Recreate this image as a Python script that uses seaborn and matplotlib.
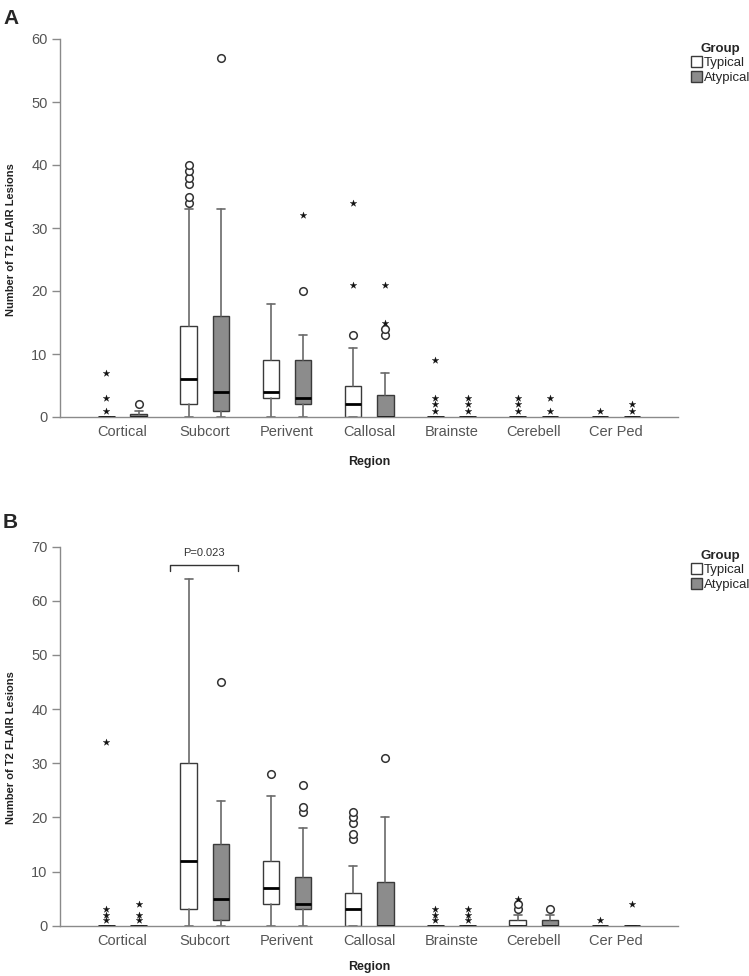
import numpy as np
import pandas as pd
import matplotlib
matplotlib.use("Agg")
import matplotlib.pyplot as plt
from matplotlib.patches import Patch
import seaborn as sns

regions = ["Cortical", "Subcort", "Perivent", "Callosal", "Brainste", "Cerebell", "Cer Ped"]
groups = ["Typical", "Atypical"]

# ---- Panel A: box statistics (Typical / Atypical) ----
A_typ_lo  = [0, 0, 0, 0, 0, 0, 0]
A_typ_q1  = [0, 2, 3, 0, 0, 0, 0]
A_typ_med = [0, 6, 4, 2, 0, 0, 0]
A_typ_q3  = [0, 14.5, 9, 5, 0, 0, 0]
A_typ_hi  = [0, 33, 18, 11, 0, 0, 0]
A_typ_circ = [[], [34, 35, 37, 38, 39, 40], [], [13], [], [], []]
A_typ_star = [[1, 3, 7], [], [], [21, 34], [1, 2, 3, 9], [1, 2, 3], [1]]

A_aty_lo  = [0, 0, 0, 0, 0, 0, 0]
A_aty_q1  = [0, 1, 2, 0, 0, 0, 0]
A_aty_med = [0, 4, 3, 0, 0, 0, 0]
A_aty_q3  = [0.5, 16, 9, 3.5, 0, 0, 0]
A_aty_hi  = [1, 33, 13, 7, 0, 0, 0]
A_aty_circ = [[2], [57], [20], [13, 14], [], [], []]
A_aty_star = [[], [], [32], [15, 21], [1, 2, 3], [1, 3], [1, 2]]

# ---- Panel B ----
B_typ_lo  = [0, 0, 0, 0, 0, 0, 0]
B_typ_q1  = [0, 3, 4, 0, 0, 0, 0]
B_typ_med = [0, 12, 7, 3, 0, 0, 0]
B_typ_q3  = [0, 30, 12, 6, 0, 1, 0]
B_typ_hi  = [0, 64, 24, 11, 0, 2, 0]
B_typ_circ = [[], [], [28], [16, 17, 19, 20, 21], [], [3, 4], []]
B_typ_star = [[1, 2, 3, 34], [], [], [], [1, 2, 3], [5], [1]]

B_aty_lo  = [0, 0, 0, 0, 0, 0, 0]
B_aty_q1  = [0, 1, 3, 0, 0, 0, 0]
B_aty_med = [0, 5, 4, 0, 0, 0, 0]
B_aty_q3  = [0, 15, 9, 8, 0, 1, 0]
B_aty_hi  = [0, 23, 18, 20, 0, 2, 0]
B_aty_circ = [[], [45], [21, 22, 26], [31], [], [3], []]
B_aty_star = [[1, 2, 4], [], [], [], [1, 2, 3], [], [4]]

p_text = "P=0.023"

sns.set_style("white")
plt.rcParams['font.family'] = ['Liberation Sans', 'DejaVu Sans']

fig = plt.figure(figsize=(7.49, 9.76), dpi=100)
axA = fig.add_axes([60/749, 1-417/976, 618/749, (417-39)/976])
axB = fig.add_axes([60/749, 1-925.7/976, 618/749, (925.7-546.7)/976])

OFF = 0.196
W = 0.2
FILL = "#8c8c8c"
EDGE = "#3a3a3a"
WHISK = "#6a6a6a"


def stats(lo, q1, med, q3, hi):
    return [dict(whislo=a, q1=b, med=c, q3=d, whishi=e, fliers=[])
            for a, b, c, d, e in zip(lo, q1, med, q3, hi)]


def draw_panel(ax, typ, aty, typ_circ, typ_star, aty_circ, aty_star, ymax, yticks, xlab_y):
    x = np.arange(len(regions))
    for st, pos, fc in [(typ, x - OFF, "white"), (aty, x + OFF, FILL)]:
        ax.bxp(st, positions=pos, widths=W, patch_artist=True, showfliers=False,
               boxprops=dict(facecolor=fc, edgecolor=EDGE, linewidth=1.0),
               medianprops=dict(color="black", linewidth=2.0),
               whiskerprops=dict(color=WHISK, linewidth=1.2),
               capprops=dict(color=WHISK, linewidth=1.2),
               capwidths=0.1, manage_ticks=False, zorder=2)
    rows_c, rows_s = [], []
    for i in range(len(regions)):
        for v in typ_circ[i]:
            rows_c.append((i - OFF, v))
        for v in aty_circ[i]:
            rows_c.append((i + OFF, v))
        for v in typ_star[i]:
            rows_s.append((i - OFF, v))
        for v in aty_star[i]:
            rows_s.append((i + OFF, v))
    dc = pd.DataFrame(rows_c, columns=["x", "y"])
    ds = pd.DataFrame(rows_s, columns=["x", "y"])
    if len(dc):
        sns.scatterplot(data=dc, x="x", y="y", ax=ax, marker="o", s=30,
                        color="white", edgecolor="#333333", linewidth=1.1, zorder=3)
    if len(ds):
        sns.scatterplot(data=ds, x="x", y="y", ax=ax, marker="*", s=26,
                        color="#111111", edgecolor="#111111", linewidth=0.2, zorder=3)
    ax.set_xlim(-0.76, 6.754)
    ax.set_ylim(0, ymax)
    ax.set_xticks(x)
    ax.set_xticklabels(regions)
    ax.set_yticks(yticks)
    for s in ["top", "right"]:
        ax.spines[s].set_visible(False)
    for s in ["left", "bottom"]:
        ax.spines[s].set_color("#8a8a8a")
        ax.spines[s].set_linewidth(1.0)
    ax.tick_params(axis="y", length=6, width=1, color="#8a8a8a", pad=3,
                   labelsize=10.5, labelcolor="#555555", left=True)
    ax.tick_params(axis="x", length=0, pad=6, labelsize=10.5, labelcolor="#555555")
    ax.set_ylabel("Number of T2 FLAIR Lesions", fontsize=8, fontweight="bold", color="#222222")
    ax.yaxis.set_label_coords(-0.072, 0.47)
    ax.set_xlabel("Region", fontsize=9, fontweight="bold", color="#222222")
    ax.xaxis.set_label_coords(0.5, xlab_y)
    handles = [Patch(facecolor="white", edgecolor=EDGE, label=groups[0]),
               Patch(facecolor=FILL, edgecolor=EDGE, label=groups[1])]
    return handles


hA = draw_panel(axA, stats(A_typ_lo, A_typ_q1, A_typ_med, A_typ_q3, A_typ_hi),
                stats(A_aty_lo, A_aty_q1, A_aty_med, A_aty_q3, A_aty_hi),
                A_typ_circ, A_typ_star, A_aty_circ, A_aty_star, 60, np.arange(0, 61, 10), -0.103)
hB = draw_panel(axB, stats(B_typ_lo, B_typ_q1, B_typ_med, B_typ_q3, B_typ_hi),
                stats(B_aty_lo, B_aty_q1, B_aty_med, B_aty_q3, B_aty_hi),
                B_typ_circ, B_typ_star, B_aty_circ, B_aty_star, 70, np.arange(0, 71, 10), -0.094)

for ax, h, ytop in [(axA, hA, 1-36/976), (axB, hB, 1-543/976)]:
    leg = ax.legend(handles=h, title="Group", loc="upper left",
                    bbox_to_anchor=(684/749, ytop), bbox_transform=fig.transFigure,
                    frameon=False, handlelength=0.9, handleheight=0.9,
                    handletextpad=0.1, labelspacing=0.12, borderpad=0,
                    fontsize=9.5, title_fontproperties=dict(weight="bold", size=9.5))
    leg._legend_box.align = "center"

# significance bracket in panel B
axB.plot([0.573, 0.573, 1.40, 1.40], [65.6, 66.6, 66.6, 65.6], color="#333333", lw=1.0,
         clip_on=False)
axB.text(0.99, 68.9, p_text, ha="center", va="center", fontsize=8, color="#333333")

fig.text(3/749, 1-18/976, "A", fontsize=15, fontweight="bold", va="center", ha="left")
fig.text(3/749, 1-522/976, "B", fontsize=15, fontweight="bold", va="center", ha="left")

fig.savefig("out.png", dpi=100)
